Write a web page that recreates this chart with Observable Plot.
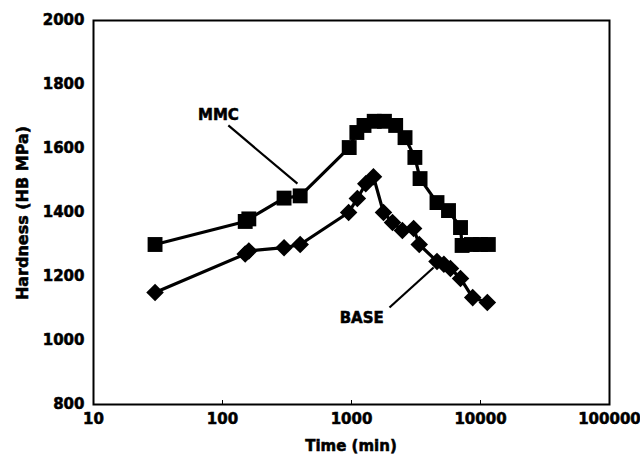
<!DOCTYPE html>
<html>
<head>
<meta charset="utf-8">
<script src="https://cdn.jsdelivr.net/npm/d3@7"></script>
<script src="https://cdn.jsdelivr.net/npm/@observablehq/plot@0.6"></script>
<style>
html,body{margin:0;padding:0;background:#fff;}
svg text{stroke:black;stroke-width:0.55px;paint-order:stroke;}
</style>
</head>
<body>
<div id="chart"></div>
<script>
// MMC series (squares)
const mmcTime = [30, 150, 160, 300, 400, 960, 1100, 1250, 1500, 1800, 2200, 2600, 3100, 3400, 4600, 5650, 7000, 7200, 8500, 10000, 11500];
const mmcHard = [1300, 1372, 1380, 1445, 1452, 1603, 1650, 1672, 1685, 1685, 1672, 1634, 1572, 1506, 1431, 1406, 1353, 1297, 1300, 1300, 1300];
// BASE series (diamonds)
const baseTime = [30, 150, 160, 300, 400, 950, 1110, 1290, 1480, 1770, 2080, 2480, 3030, 3350, 4600, 5200, 5850, 7000, 8700, 11300];
const baseHard = [1150, 1270, 1280, 1290, 1300, 1400, 1444, 1490, 1512, 1400, 1369, 1344, 1350, 1300, 1247, 1238, 1225, 1194, 1134, 1119];

const xTicks = [10, 100, 1000, 10000, 100000];
const yTicks = [800, 1000, 1200, 1400, 1600, 1800, 2000];

// annotations
const labelNames = ["MMC", "BASE"];
const labelTime = [93, 1200];
const labelHard = [1703, 1069];
const leaderTime1 = [111, 1970];
const leaderHard1 = [1672, 1103];
const leaderTime2 = [381, 4330];
const leaderHard2 = [1490, 1228];

const mmc = mmcTime.map((t, i) => ({t, h: mmcHard[i]}));
const base = baseTime.map((t, i) => ({t, h: baseHard[i]}));
const labels = labelNames.map((n, i) => ({n, t: labelTime[i], h: labelHard[i]}));
const leaders = labelNames.map((n, i) => ({x1: leaderTime1[i], y1: leaderHard1[i], x2: leaderTime2[i], y2: leaderHard2[i]}));

const font = "'DejaVu Sans', sans-serif";

const chart = Plot.plot({
  width: 640,
  height: 456,
  marginTop: 20,
  marginLeft: 93,
  marginRight: 31,
  marginBottom: 52,
  style: {fontFamily: font, fontWeight: "bold", fontSize: "15px", color: "black", background: "white"},
  x: {type: "log", domain: [10, 100000]},
  y: {domain: [800, 2000]},
  marks: [
    Plot.axisY({ticks: yTicks, tickSize: 0, tickPadding: 9, label: null, tickFormat: d3.format("d"), fontSize: 15, fontWeight: "bold"}),
    Plot.axisX({ticks: xTicks, tickSize: -4, tickPadding: 13, label: null, tickFormat: d3.format("d"), fontSize: 15, fontWeight: "bold"}),
    Plot.frame({stroke: "black", strokeWidth: 2}),
    Plot.link(leaders, {x1: "x1", y1: "y1", x2: "x2", y2: "y2", stroke: "black", strokeWidth: 2.2}),
    Plot.line(mmc, {x: "t", y: "h", stroke: "black", strokeWidth: 3.2}),
    Plot.line(base, {x: "t", y: "h", stroke: "black", strokeWidth: 3.2}),
    Plot.dot(mmc, {x: "t", y: "h", symbol: "square", r: 8.4, fill: "black", stroke: "none"}),
    Plot.dot(base, {x: "t", y: "h", symbol: "diamond2", r: 7.9, fill: "black", stroke: "none"}),
    Plot.text(labels, {x: "t", y: "h", text: "n", fontSize: 15, fontWeight: "bold", fill: "black"})
  ]
});

// axis titles as real text
const svg = d3.select(chart);
svg.append("text")
  .attr("x", 351).attr("y", 446)
  .attr("text-anchor", "middle").attr("dominant-baseline", "middle")
  .attr("font-family", font).attr("font-weight", "bold").attr("font-size", 15)
  .text("Time (min)");
svg.append("text")
  .attr("transform", "translate(23,213) rotate(-90)")
  .attr("text-anchor", "middle").attr("dominant-baseline", "middle")
  .attr("font-family", font).attr("font-weight", "bold").attr("font-size", 16)
  .text("Hardness (HB MPa)");

document.getElementById("chart").appendChild(chart);
</script>
</body>
</html>
